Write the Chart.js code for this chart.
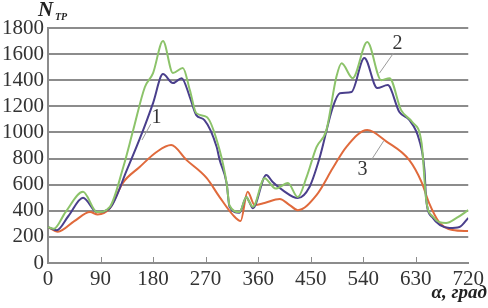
<!DOCTYPE html>
<html>
<head>
<meta charset="utf-8">
<script src="https://cdn.jsdelivr.net/npm/chart.js@4.4.1/dist/chart.umd.min.js"></script>
<style>
  html, body { margin: 0; padding: 0; background: #fff; }
  #wrap { width: 488px; height: 308px; position: relative; }
</style>
</head>
<body>
<div id="wrap"><canvas id="chart"></canvas></div>
<script>
// ---- Data (angle in degrees, N_TP values) ----
const xTicks = [0, 90, 180, 270, 360, 450, 540, 630, 720];
const yTicks = [0, 200, 400, 600, 800, 1000, 1200, 1400, 1600, 1800];

// curve 2 (green)
const greenDeg = [0, 10, 30, 60, 84, 106, 129, 146, 166, 180, 197, 214, 231, 243, 254, 272, 294, 306, 311, 328, 340, 345, 351, 371, 390, 411, 428, 443, 460, 477, 494, 503, 522, 547, 571, 585, 605, 624, 640, 648, 660, 682, 700, 720];
const greenVal = [275, 262, 390, 545, 390, 430, 735, 1018, 1348, 1455, 1700, 1455, 1493, 1325, 1148, 1118, 865, 612, 440, 390, 505, 467, 430, 650, 570, 612, 505, 658, 888, 1018, 1424, 1530, 1416, 1692, 1400, 1416, 1171, 1080, 920, 482, 352, 306, 345, 405];

// curve 1 (blue)
const blueDeg = [0, 15, 35, 60, 84, 106, 135, 163, 180, 197, 214, 229, 243, 254, 268, 289, 294, 306, 311, 328, 340, 345, 351, 374, 385, 402, 428, 448, 465, 488, 500, 520, 542, 564, 582, 602, 619, 636, 645, 648, 658, 688, 705, 720];
const blueVal = [275, 250, 360, 500, 390, 420, 712, 1018, 1225, 1447, 1378, 1416, 1271, 1133, 1095, 888, 790, 612, 430, 385, 505, 467, 420, 674, 620, 558, 497, 582, 800, 1194, 1300, 1310, 1570, 1340, 1363, 1156, 1095, 942, 712, 482, 352, 268, 276, 345];

// curve 3 (red)
const redDeg = [0, 17, 45, 72, 85, 106, 128, 157, 186, 211, 237, 272, 294, 317, 330, 342, 354, 371, 397, 414, 428, 460, 488, 511, 547, 580, 619, 640, 653, 670, 693, 720];
const redVal = [275, 240, 320, 390, 372, 420, 612, 735, 850, 903, 790, 650, 505, 367, 322, 545, 444, 460, 490, 444, 405, 520, 727, 888, 1018, 930, 788, 620, 459, 314, 253, 245];

const pts = (xs, ys) => xs.map((x, i) => ({ x: x, y: ys[i] }));

// Annotation labels: [text, x, y, leader from (deg,val), leader to (deg,val)]
const notes = [
  ['1', 186, 1110, [176, 1064], [161, 942]],
  ['2', 599, 1680, [592, 1608], [568, 1455]],
  ['3', 539, 712, [554, 789], [575, 934]],
];

const SERIF = "'Liberation Serif', 'DejaVu Serif', serif";
const gridGray = '#8c8c8c';

// ---- Plugin: inner x tick marks, axis titles, curve labels ----
const decorations = {
  id: 'decorations',
  afterDraw(chart) {
    const { ctx, chartArea, scales: { x, y } } = chart;
    ctx.save();
    // tick marks pointing up into the plot
    ctx.strokeStyle = gridGray;
    ctx.lineWidth = 1;
    xTicks.slice(1, -1).forEach(t => {
      const px = Math.round(x.getPixelForValue(t)) + 0.5;
      ctx.beginPath();
      ctx.moveTo(px, chartArea.bottom);
      ctx.lineTo(px, chartArea.bottom - 6);
      ctx.stroke();
    });

    // leader lines + numbers
    ctx.strokeStyle = '#9a9a9a';
    ctx.lineWidth = 1;
    ctx.fillStyle = '#333';
    ctx.font = '20px ' + SERIF;
    ctx.textAlign = 'center';
    ctx.textBaseline = 'middle';
    notes.forEach(([txt, nx, ny, a, b]) => {
      ctx.beginPath();
      ctx.moveTo(x.getPixelForValue(a[0]), y.getPixelForValue(a[1]));
      ctx.lineTo(x.getPixelForValue(b[0]), y.getPixelForValue(b[1]));
      ctx.stroke();
      ctx.fillText(txt, x.getPixelForValue(nx), y.getPixelForValue(ny));
    });

    // y title N_TP
    ctx.fillStyle = '#222';
    ctx.textAlign = 'left';
    ctx.textBaseline = 'alphabetic';
    ctx.font = 'italic bold 21px ' + SERIF;
    ctx.fillText('N', 38, 16);
    ctx.font = 'italic bold 10px ' + SERIF;
    ctx.fillText('TP', 55, 20);

    // x title
    ctx.font = 'italic bold 19px ' + SERIF;
    ctx.textAlign = 'right';
    ctx.fillText('α, град', 487, 298);
    ctx.restore();
  }
};

const ctx = document.getElementById('chart');
new Chart(ctx, {
  type: 'line',
  data: {
    datasets: [
      {
        label: '2',
        data: pts(greenDeg, greenVal),
        borderColor: '#8cc36a',
        borderWidth: 2,
        pointRadius: 0,
        cubicInterpolationMode: 'monotone',
        fill: false,
      },
      {
        label: '1',
        data: pts(blueDeg, blueVal),
        borderColor: '#4a3f8c',
        borderWidth: 2,
        pointRadius: 0,
        cubicInterpolationMode: 'monotone',
        fill: false,
      },
      {
        label: '3',
        data: pts(redDeg, redVal),
        borderColor: '#e06a3c',
        borderWidth: 2,
        pointRadius: 0,
        cubicInterpolationMode: 'monotone',
        fill: false,
      }
    ]
  },
  options: {
    responsive: true,
    maintainAspectRatio: false,
    animation: false,
    layout: { padding: { top: 28, right: 19, left: 0, bottom: 0 } },
    plugins: {
      legend: { display: false },
      tooltip: { enabled: false }
    },
    scales: {
      x: {
        type: 'linear',
        min: 0,
        max: 720,
        afterBuildTicks: s => { s.ticks = xTicks.map(v => ({ value: v })); },
        grid: { display: false, drawTicks: false },
        border: { display: true, color: gridGray, width: 2 },
        ticks: {
          color: '#333',
          padding: 4,
          maxRotation: 0,
          autoSkip: false,
          font: { family: SERIF, size: 21 },
          callback: v => String(v)
        },
        afterFit: s => { s.height = 45; }
      },
      y: {
        min: 0,
        max: 1800,
        afterBuildTicks: s => { s.ticks = yTicks.map(v => ({ value: v })); },
        grid: { color: gridGray, lineWidth: 2, drawTicks: false },
        border: { display: true, color: gridGray, width: 2 },
        ticks: {
          color: '#333',
          padding: 4,
          autoSkip: false,
          font: { family: SERIF, size: 21 },
          callback: v => String(v)
        },
        afterFit: s => { s.width = 48; }
      }
    }
  },
  plugins: [decorations]
});
</script>
</body>
</html>
